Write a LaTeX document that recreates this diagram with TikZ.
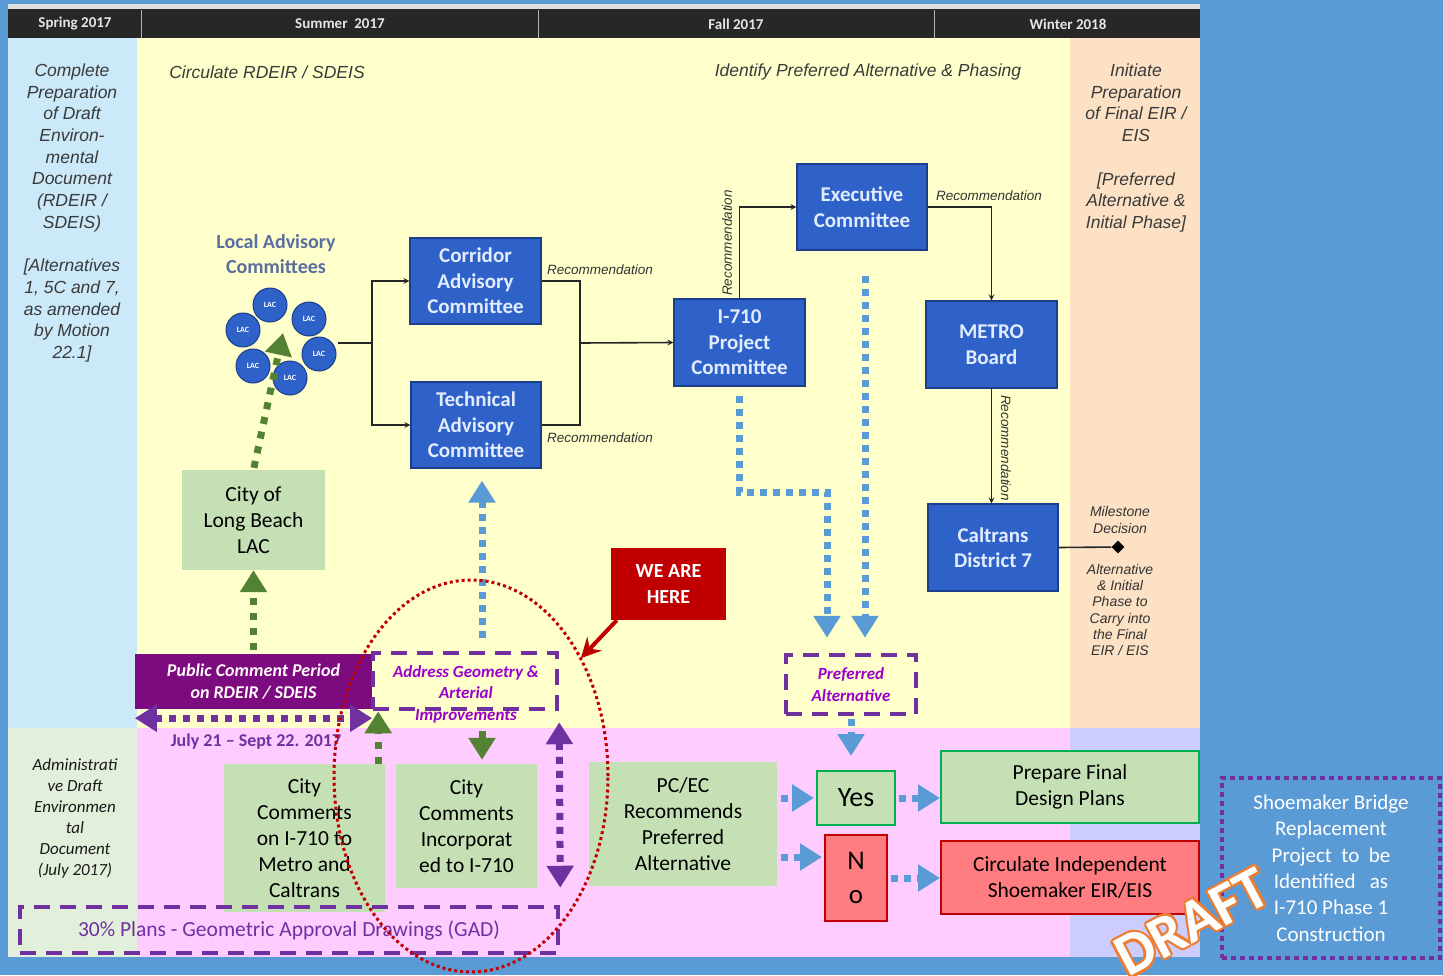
\documentclass[tikz,border=0pt]{standalone}
\usepackage{fontspec}
\setmainfont{Carlito}
\newfontfamily\arialf{Liberation Sans}
\usetikzlibrary{arrows.meta,shapes.geometric}
\definecolor{bgblue}{HTML}{5B9BD5}
\definecolor{hdrdark}{HTML}{272727}
\definecolor{springc}{HTML}{CBE9F8}
\definecolor{summerc}{HTML}{FFFFCC}
\definecolor{winterc}{HTML}{FCE1C4}
\definecolor{adminc}{HTML}{E2EFDA}
\definecolor{pinkc}{HTML}{FFCCFF}
\definecolor{lavc}{HTML}{CCCCFF}
\definecolor{boxblue}{HTML}{2F62C8}
\definecolor{boxedge}{HTML}{1C3F8C}
\definecolor{boxtext}{HTML}{E2ECFF}
\definecolor{boxgreen}{HTML}{C5E0B4}
\definecolor{arrgreen}{HTML}{548235}
\definecolor{okgreen}{HTML}{00B050}
\definecolor{purp}{HTML}{7030A0}
\definecolor{violet2}{HTML}{9A00CC}
\definecolor{pcpfill}{HTML}{7B0B7E}
\definecolor{redc}{HTML}{C00000}
\definecolor{redfill}{HTML}{FF7C80}
\definecolor{notegray}{HTML}{3A3A3A}
\definecolor{slateblue}{HTML}{5A6FA0}
\definecolor{draftor}{HTML}{ED7D31}
\begin{document}
\begin{tikzpicture}[>=stealth,x=1pt,y=-1pt,
  hdr/.style={text=white!90!black,font=\bfseries\fontsize{15}{17}\selectfont},
  note/.style={align=center,text=notegray,font=\arialf\itshape\fontsize{17.5}{21.7}\selectfont},
  bbox/.style={draw=boxedge,line width=1.2pt,fill=boxblue,text=boxtext,align=center,inner sep=0pt,font=\bfseries\fontsize{21}{25.5}\selectfont},
  gbox/.style={fill=boxgreen,align=center,inner sep=0pt,font=\fontsize{21.5}{26}\selectfont},
  lac/.style={circle,draw=boxedge,line width=1pt,fill=boxblue,text=white,minimum size=34pt,inner sep=0pt,font=\bfseries\fontsize{8}{9}\selectfont},
  conn/.style={line width=1.6pt,black!85},
  rec/.style={text=black!80,font=\arialf\itshape\fontsize{13.5}{15}\selectfont},
  small/.style={align=center,text=black!80,font=\arialf\itshape\fontsize{14}{16.2}\selectfont},
  bluedot/.style={line width=7pt,bgblue,dash pattern=on 7pt off 6pt,-{Triangle[length=22pt,width=26pt]}},
  greendot/.style={line width=7pt,arrgreen,dash pattern=on 7pt off 8pt,-{Triangle[length=22pt,width=26pt]}},
  purpdot/.style={line width=7pt,purp,dash pattern=on 7pt off 7pt,{Triangle[length=22pt,width=26pt]}-{Triangle[length=22pt,width=26pt]}},
  pdash/.style={draw=purp,line width=4.5pt,dash pattern=on 16pt off 10pt,inner sep=0pt},
  vtext/.style={align=center,text=violet2,font=\bfseries\itshape\fontsize{17}{21.5}\selectfont}]
\useasboundingbox (0,0) rectangle (1443,975);
% bands
\fill[bgblue] (0,0) rectangle (1443,975);
\fill[black!12] (8,4) rectangle (1200,9);
\fill[hdrdark] (8,9) rectangle (1200,38);
\fill[springc] (8,38) rectangle (137,728);
\fill[summerc] (137,38) rectangle (1070,728);
\fill[winterc] (1070,38) rectangle (1200,728);
\fill[adminc] (8,728) rectangle (137,957);
\fill[pinkc] (137,728) rectangle (1070,957);
\fill[lavc] (1070,728) rectangle (1200,957);
\foreach \x in {141,538,934} \draw[white!70!black,line width=0.8pt] (\x,10) -- (\x,38);
\node[hdr] (hspring) at (75,24) {Spring 2017};
\node[hdr] (hsummer) at (340,24) {Summer\ \ 2017};
\node[hdr] (hfall) at (736,24) {Fall 2017};
\node[hdr] (hwinter) at (1068,24) {Winter 2018};
% column notes
\node[note] (spring) at (72,213) {Complete\\Preparation\\of Draft\\Environ-\\mental\\Document\\(RDEIR /\\SDEIS)\\[21.7pt]{[}Alternatives\\1, 5C and 7,\\as amended\\by Motion\\22.1{]}};
\node[note] (winter) at (1136,148) {Initiate\\Preparation\\of Final EIR /\\EIS\\[21.7pt]{[}Preferred\\Alternative \&\\Initial Phase{]}};
\node[note] (circrd) at (267,72) {Circulate RDEIR / SDEIS};
\node[note] (ident) at (868,72) {Identify Preferred Alternative \& Phasing};
\node[note,text=black!90,font=\itshape\fontsize{17}{21}\selectfont] (admin) at (75,818) {Administrati\\ve Draft\\Environmen\\tal\\Document\\(July 2017)};
% committees
\node[align=center,text=slateblue,font=\bfseries\fontsize{20}{25}\selectfont] (laclabel) at (276,254) {Local Advisory\\Committees};
\foreach \x/\y [count=\i] in {270/305,309/319,243/330,319/354,253/366,290/378}
  \node[lac] (lac\i) at (\x,\y) {LAC};
\coordinate (lacr) at (338,343);
\coordinate (lacin) at (283,333);
\node[bbox,minimum width=131pt,minimum height=86pt] (cac) at (475.5,281) {Corridor\\Advisory\\Committee};
\node[bbox,minimum width=130pt,minimum height=86pt] (tac) at (476,425) {Technical\\Advisory\\Committee};
\node[bbox,minimum width=131pt,minimum height=87pt] (i710) at (739.5,342.5) {I-710\\Project\\Committee};
\node[bbox,minimum width=130pt,minimum height=86pt] (exec) at (862,207) {Executive\\Committee};
\node[bbox,minimum width=131pt,minimum height=87pt] (metro) at (991.5,344.5) {METRO\\Board};
\node[bbox,minimum width=130pt,minimum height=87pt] (caltrans) at (993,547.5) {Caltrans\\District 7};
\node[diamond,fill=black,inner sep=0pt,minimum size=13pt] (mile) at (1118,547) {};
\draw[conn] (lacr) -- (372,343) coordinate (split);
\draw[conn,->] (split) |- (cac.west);
\draw[conn,->] (split) |- (tac.west);
\coordinate (join) at (580,343);
\draw[conn] (cac.east) -| (join) |- (tac.east);
\draw[conn,->] (join) -- (i710.west);
\draw[conn,->] (i710.north) |- (exec.west);
\draw[conn,->] (exec.east) -| (metro.north);
\draw[conn,->] (metro.south) -- (metro.south |- caltrans.north);
\draw[conn] (caltrans.east) -- (mile);
\node[rec] (rec1) at (600,270) {Recommendation};
\node[rec] (rec2) at (600,438) {Recommendation};
\node[rec,rotate=90] (rec3) at (727,243) {Recommendation};
\node[rec] (rec4) at (989,196) {Recommendation};
\node[rec,rotate=-90] (rec5) at (1006,448) {Recommendation};
\node[small] (mtop) at (1120,520) {Milestone\\Decision};
\node[small] (mbot) at (1120,610) {Alternative\\\& Initial\\Phase to\\Carry into\\the Final\\EIR / EIS};
% green boxes
\node[gbox,minimum width=143pt,minimum height=100pt] (citylb) at (253.5,520) {City of\\Long Beach\\LAC};
\node[gbox,minimum width=161pt,minimum height=148pt] (citycom) at (304.5,838) {City\\Comments\\on I-710 to\\Metro and\\Caltrans};
\node[gbox,minimum width=141pt,minimum height=124pt] (citycomi) at (466.5,826) {City\\Comments\\Incorporat\\ed to I-710};
\node[gbox,minimum width=188pt,minimum height=124pt] (pcec) at (683,824) {PC/EC\\Recommends\\Preferred\\Alternative};
\node[gbox,draw=okgreen,line width=2pt,minimum width=78pt,minimum height=54pt,font=\fontsize{28}{30}\selectfont] (yes) at (856,798) {Yes};
\node[gbox,draw=okgreen,line width=2pt,minimum width=258pt,minimum height=72pt] (prep) at (1070,787) {Prepare Final\\Design Plans};
\node[gbox,fill=redfill,draw=redc,line width=2pt,minimum width=62pt,minimum height=86pt,font=\fontsize{27}{34}\selectfont] (no) at (856,878) {N\\o};
\node[gbox,fill=redfill,draw=redc,line width=2pt,minimum width=258pt,minimum height=73pt] (circind) at (1070,877.5) {Circulate Independent\\Shoemaker EIR/EIS};
\node[fill=pcpfill,text=white!90!pink,align=center,inner sep=0pt,minimum width=237pt,minimum height=55pt,font=\bfseries\itshape\fontsize{18}{22}\selectfont] (pcp) at (253.5,681.5) {Public Comment Period\\on RDEIR / SDEIS};
\node[text=purp,font=\bfseries\fontsize{18}{20}\selectfont] (july) at (256,742) {July 21 -- Sept 22. 2017};
% dashed purple boxes
\node[pdash,minimum width=184pt,minimum height=56pt] (addr) at (465,681) {};
\node[vtext] (addrtxt) at (466,694) {Address Geometry \&\\Arterial\\Improvements};
\node[pdash,minimum width=130pt,minimum height=59pt,vtext] (pref) at (851,684.5) {Preferred\\Alternative};
% dotted arrows
\draw[greendot,shorten <=2pt] (citylb.north) -- (lacin);
\draw[greendot,shorten <=4pt] (pcp.north) -- (citylb.south);
\draw[greendot] ([xshift=-7pt]citycom.north east) -- ([xshift=-7pt]citycom.north east |- addr.south);
\draw[greendot,shorten <=20pt,shorten >=4pt] ([xshift=17pt]addr.south) -- ([xshift=17pt]addr.south |- citycomi.north);
\draw[bluedot,shorten <=13pt,shorten >=12pt] ([xshift=17pt]addr.north) -- ([xshift=17pt]addr.north |- tac.south);
\draw[bluedot,shorten <=9pt,shorten >=15pt] (i710.south) -- ++(0,106) -| ([xshift=-24pt]pref.north);
\draw[bluedot,shorten <=25pt,shorten >=15pt] ([xshift=14pt]pref.north |- exec.south) -- ([xshift=14pt]pref.north);
\draw[bluedot,shorten <=3pt,shorten >=14pt] (pref.south) -- (pref.south |- yes.north);
\coordinate (noin) at ([yshift=21pt]no.west);
\draw[bluedot,shorten <=4pt,shorten >=2pt] (pcec.east |- yes.west) -- (yes.west);
\draw[bluedot,shorten <=4pt,shorten >=2pt] (pcec.east |- noin) -- (noin);
\draw[bluedot,shorten <=3pt] (yes.east) -- (yes.east -| prep.west);
\draw[bluedot,shorten <=3pt] (no.east) -- (no.east -| circind.west);
\node[pdash,minimum width=538pt,minimum height=46pt,text=purp,font=\fontsize{21.5}{24}\selectfont] (gad) at (289,930) {30\% Plans - Geometric Approval Drawings (GAD)};
\draw[purpdot] ([yshift=-9pt]pcp.south west) -- ([yshift=-9pt]pcp.south east);
\draw[purpdot] ([yshift=-11pt]addr.south east) -- ([yshift=17pt]gad.north east);
% we are here
\draw[redc,line width=3pt,dash pattern=on 3pt off 3pt] (471,776) ellipse [x radius=137pt,y radius=196pt];
\node[fill=redc,text=white,align=center,inner sep=0pt,minimum width=115pt,minimum height=72pt,font=\bfseries\fontsize{20}{26}\selectfont] (weare) at (668.5,584) {WE ARE\\HERE};
\draw[redc,line width=4pt,-{Stealth[length=20pt,width=20pt,inset=7pt]}] ([xshift=6pt]weare.south west) -- ++(-36,38);
% shoemaker note
\node[draw=purp,line width=4pt,dash pattern=on 5pt off 4pt,minimum width=218pt,minimum height=180pt,inner sep=0pt,align=center,text=white,font=\fontsize{21}{26.4}\selectfont] (shoe) at (1331,868) {Shoemaker Bridge\\Replacement\\Project\ \ to\ \ be\\Identified\ \ \ as\\I-710 Phase 1\\Construction};
\foreach \a in {0,45,...,315}
  \node[text=draftor,rotate=28,shift={(\a:2.5pt)},font=\bfseries\fontsize{60}{60}\selectfont] (d\a) at (1192,922) {DRAFT};
\node[text=white,rotate=28,font=\bfseries\fontsize{60}{60}\selectfont] (draft) at (1192,922) {DRAFT};
\end{tikzpicture}
\end{document}
